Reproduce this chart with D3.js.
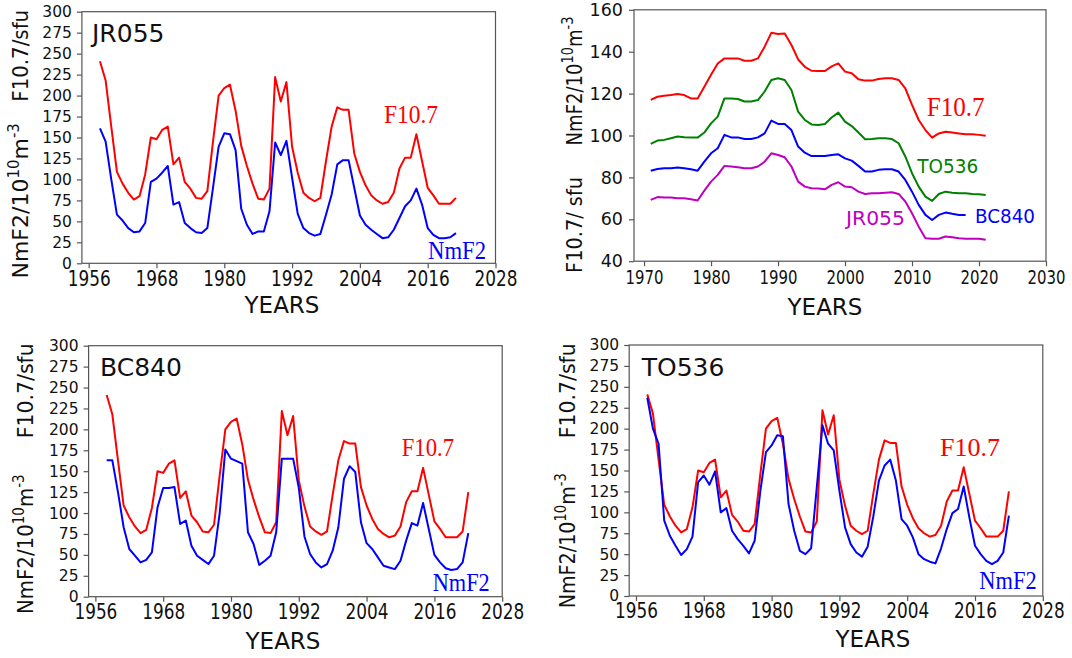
<!DOCTYPE html>
<html>
<head>
<meta charset="utf-8">
<script src="https://cdn.jsdelivr.net/npm/d3@7"></script>
<style>
  body { margin: 0; background: #fff; }
  svg { display: block; background: #fff; }
  text { font-family: "DejaVu Sans", sans-serif; fill: #111; }
  text.serif { font-family: "Liberation Serif", "Times New Roman", serif; }
</style>
</head>
<body>
<svg id="chart" width="1072" height="658"></svg>
<script>
// Annual values, 1958-2022
var years = [1958, 1959, 1960, 1961, 1962, 1963, 1964, 1965, 1966, 1967,
  1968, 1969, 1970, 1971, 1972, 1973, 1974, 1975, 1976, 1977,
  1978, 1979, 1980, 1981, 1982, 1983, 1984, 1985, 1986, 1987,
  1988, 1989, 1990, 1991, 1992, 1993, 1994, 1995, 1996, 1997,
  1998, 1999, 2000, 2001, 2002, 2003, 2004, 2005, 2006, 2007,
  2008, 2009, 2010, 2011, 2012, 2013, 2014, 2015, 2016, 2017,
  2018, 2019, 2020, 2021, 2022];

var f107 = [241, 218, 163, 109, 95, 84, 76, 80, 106, 150,
  148, 159, 163, 118, 126, 97, 89, 78, 77, 86,
  145, 200, 209, 213, 182, 140, 116, 95, 77, 76,
  89, 222, 193, 216, 139, 108, 84, 78, 74, 78,
  122, 163, 186, 183, 183, 131, 109, 93, 81, 75,
  71, 73, 84, 113, 126, 126, 154, 122, 90, 81,
  71, 71, 71, 78, 125];

// JR055 stops at 2021
var nmf2JR055 = [161, 145, 100, 58, 51, 42, 37, 38, 48, 97,
  101, 108, 116, 70, 73, 48, 42, 37, 36, 42,
  90, 139, 155, 154, 135, 65, 46, 35, 38, 38,
  62, 144, 129, 146, 102, 59, 42, 36, 33, 35,
  58, 82, 118, 123, 123, 90, 57, 46, 40, 35,
  30, 31, 40, 54, 68, 75, 89, 70, 42, 34,
  30, 30, 31, 36];

var nmf2BC840 = [163, 163, 125, 83, 57, 49, 41, 44, 53, 107,
  130, 130, 131, 87, 91, 61, 49, 44, 39, 49,
  100, 176, 165, 162, 159, 77, 63, 38, 43, 49,
  77, 165, 165, 165, 130, 72, 51, 41, 35, 39,
  55, 83, 141, 156, 149, 89, 64, 57, 47, 37,
  35, 33, 43, 67, 88, 85, 112, 81, 50, 41,
  34, 32, 33, 41, 76];

var nmf2TO536 = [237, 200, 182, 90, 72, 60, 49, 56, 71, 136,
  144, 133, 149, 100, 105, 78, 68, 60, 51, 66,
  125, 172, 180, 192, 191, 110, 78, 54, 50, 57,
  130, 204, 182, 174, 126, 82, 62, 52, 47, 59,
  95, 138, 156, 163, 138, 92, 84, 70, 50, 44,
  41, 39, 57, 80, 99, 104, 131, 94, 60, 50,
  42, 38, 42, 52, 96];

// Running means, 1971-2021 (BC840 ends 2018)
var meanYears = [1971, 1972, 1973, 1974, 1975, 1976, 1977, 1978, 1979, 1980,
  1981, 1982, 1983, 1984, 1985, 1986, 1987, 1988, 1989, 1990,
  1991, 1992, 1993, 1994, 1995, 1996, 1997, 1998, 1999, 2000,
  2001, 2002, 2003, 2004, 2005, 2006, 2007, 2008, 2009, 2010,
  2011, 2012, 2013, 2014, 2015, 2016, 2017, 2018, 2019, 2020,
  2021];

var meanF107 = [117, 118.5, 119, 119.3, 119.8, 119.3, 117.7, 117.7, 123.3, 129,
  134.4, 136.8, 136.8, 136.8, 135.7, 135.7, 136.8, 142.4, 149, 148.4,
  148.7, 143.2, 136.3, 132.8, 130.9, 130.8, 130.8, 133, 134.4, 130.5,
  129.7, 126.8, 126.2, 126.2, 127, 127.3, 127.3, 126.5, 122.5, 114.6,
  107.4, 102.6, 99, 101, 101.8, 101.4, 101, 100.6, 100.6, 100.3,
  99.9];

var meanTO536 = [96, 97.6, 97.9, 98.7, 99.5, 99.2, 99, 99, 101.4, 105.8,
  109, 117.7, 117.7, 117.4, 116.2, 116.2, 116.9, 121, 126.5, 127.3,
  126.5, 121.7, 111.4, 107.4, 105.3, 105, 105.5, 108.6, 110.9, 106.6,
  104.5, 101.4, 98.2, 98.3, 98.7, 98.7, 98.3, 96.3, 90, 82,
  75.6, 70.8, 68.8, 72.1, 73.2, 72.7, 72.4, 72.4, 72.1, 72,
  71.6];

var meanBC840 = [83.2, 84, 84.4, 84.4, 84.7, 84.4, 83.9, 83.2, 87.5, 91.5,
  93.9, 100.3, 99.1, 99.1, 98.3, 98.3, 99.1, 101, 107.1, 105.5,
  105.5, 102.6, 94.7, 91.8, 90.2, 90.2, 90.2, 90.7, 91, 89.1,
  88, 85.5, 82.8, 82.8, 83.6, 83.9, 83.9, 82.8, 78.8, 73.2,
  66.9, 62.1, 59.7, 62.1, 63.2, 62.6, 62.1, 62.1];

var meanJR055 = [69.3, 70.6, 70.4, 70.4, 70, 70, 69.6, 69, 73.7, 78,
  81.2, 85.5, 85.2, 84.8, 84.4, 84.4, 85.2, 87.5, 91.5, 90.7,
  89.6, 85.2, 78, 75.6, 74.8, 74.7, 74.3, 76.4, 77.7, 75.6,
  75.3, 73.2, 72.1, 72.4, 72.4, 72.7, 72.9, 72.1, 68.5, 62.9,
  56.5, 51, 50.7, 50.7, 51.8, 51.4, 51, 50.7, 50.7, 50.7,
  50.2];

var cycleXTicks = [1956, 1968, 1980, 1992, 2004, 2016, 2028];
var cycleYTicks = [0, 25, 50, 75, 100, 125, 150, 175, 200, 225, 250, 275, 300];
var meanXTicks = [1970, 1980, 1990, 2000, 2010, 2020, 2030];
var meanYTicks = [40, 60, 80, 100, 120, 140, 160];

var RED = "#ff0000", BLUE = "#0000ff", GREEN = "#008000", MAGENTA = "#bf00bf";
var FRAME = "#555";

var svg = d3.select("#chart");

/**
 * Helpers
 */
function addText(g, str, x, y, size, o) {
  o = o || {};
  var t = g.append("text")
    .attr("x", x)
    .attr("y", y)
    .style("font-size", size + "px")
    .text(str);
  if (o.anchor) t.attr("text-anchor", o.anchor);
  if (o.color) t.style("fill", o.color);
  if (o.serif) t.classed("serif", true);
  if (o.width) t.attr("textLength", o.width).attr("lengthAdjust", "spacingAndGlyphs");
  return t;
}

function rotated(g, x, y, size, sx) {
  return g.append("text")
    .attr("transform", "translate(" + x + "," + y + ") rotate(-90) scale(" + sx + ",1)")
    .attr("text-anchor", "middle")
    .style("font-size", size + "px");
}

function fluxLabel(g, str, x, y, size, sx) {
  rotated(g, x, y, size, sx).text(str);
}

function nmf2Label(g, x, y, size, sx) {
  var sup = Math.round(size * 0.7);
  var rise = Math.round(size * 0.42);
  var t = rotated(g, x, y, size, sx);
  t.append("tspan").text("NmF2/10");
  t.append("tspan").attr("dy", -rise).style("font-size", sup + "px").text("10");
  t.append("tspan").attr("dy", rise).text("m");
  t.append("tspan").attr("dy", -rise).style("font-size", sup + "px").text("-3");
}

function drawAxes(g, x, y, o) {
  var bottom = y.range()[0], top = y.range()[1];
  var left = x.range()[0], right = x.range()[1];

  var xa = g.append("g")
    .attr("transform", "translate(0," + bottom + ")")
    .call(d3.axisBottom(x).tickValues(o.xTicks).tickSize(5).tickPadding(o.xPad).tickFormat(d3.format("d")));
  xa.selectAll("text")
    .style("font-size", o.xFont + "px")
    .attr("textLength", o.xWidth)
    .attr("lengthAdjust", "spacingAndGlyphs");

  var ya = g.append("g")
    .attr("transform", "translate(" + left + ",0)")
    .call(d3.axisLeft(y).tickValues(o.yTicks).tickSize(5).tickPadding(o.yPad).tickFormat(d3.format("d")));
  ya.selectAll("text").style("font-size", o.yFont + "px");

  [xa, ya].forEach(function(a) {
    a.attr("font-family", null).attr("font-size", null);
    a.select(".domain").remove();
    a.selectAll("line").attr("stroke", FRAME).attr("stroke-width", 1.2);
  });

  g.append("rect")
    .attr("x", left).attr("y", top)
    .attr("width", right - left).attr("height", bottom - top)
    .attr("fill", "none")
    .attr("stroke", FRAME)
    .attr("stroke-width", 1.2);
}

function drawSeries(g, x, y, xs, vals, color) {
  var line = d3.line()
    .x(function(d) { return x(d[0]); })
    .y(function(d) { return y(d[1]); });
  g.append("path")
    .datum(d3.zip(xs.slice(0, vals.length), vals))
    .attr("d", line)
    .attr("fill", "none")
    .attr("stroke", color)
    .attr("stroke-width", 2)
    .attr("stroke-linejoin", "round");
}

/**
 * Station panels: F10.7 against station NmF2
 */
function cyclePanel(p) {
  var g = svg.append("g").attr("class", "panel");
  var x = d3.scaleLinear().domain([1954.8, 2028]).range([p.left, p.right]);
  var y = d3.scaleLinear().domain([0, 300]).range([p.bottom, p.top]);

  drawAxes(g, x, y, {
    xTicks: cycleXTicks, yTicks: cycleYTicks,
    xFont: 21, xWidth: 43, xPad: 2.5,
    yFont: 15.5, yPad: 5
  });

  var n = p.endYear ? years.indexOf(p.endYear) + 1 : years.length;
  drawSeries(g, x, y, years, f107.slice(0, n), RED);
  drawSeries(g, x, y, years, p.nmf2, BLUE);

  addText(g, p.name, p.titleX, p.titleY, 25);
  addText(g, "F10.7", p.fX, p.fY, 26, { serif: true, color: RED, width: p.fW });
  addText(g, "NmF2", p.nX, p.nY, 26, { serif: true, color: BLUE, width: p.nW });
  addText(g, "YEARS", p.yearsX, p.yearsY, 23, { anchor: "middle" });

  fluxLabel(g, "F10.7/sfu", p.labX, p.fluxY, 22, p.fluxS);
  nmf2Label(g, p.labX, p.nmY, 22, p.nmS);
}

cyclePanel({
  name: "JR055", nmf2: nmf2JR055, endYear: 2021,
  left: 81.9, right: 495.5, top: 11.7, bottom: 263.3,
  titleX: 92, titleY: 42.3,
  fX: 384, fY: 123, fW: 54,
  nX: 428, nY: 259.3, nW: 58,
  yearsX: 282, yearsY: 313,
  labX: 28.3, fluxY: 55.8, fluxS: 0.9, nmY: 200.8, nmS: 1.0
});

cyclePanel({
  name: "BC840", nmf2: nmf2BC840,
  left: 88.6, right: 502.2, top: 345.7, bottom: 596.7,
  titleX: 100, titleY: 376.3,
  fX: 401.7, fY: 455.7, fW: 52.5,
  nX: 432.7, nY: 590.7, nW: 57,
  yearsX: 283, yearsY: 649,
  labX: 33, fluxY: 390.8, fluxS: 0.93, nmY: 544.2, nmS: 0.9
});

cyclePanel({
  name: "TO536", nmf2: nmf2TO536,
  left: 629.2, right: 1042.8, top: 345, bottom: 596,
  titleX: 641.7, titleY: 375.7,
  fX: 940, fY: 455.7, fW: 60,
  nX: 979.3, nY: 589, nW: 57.3,
  yearsX: 873, yearsY: 647,
  labX: 575, fluxY: 390.8, fluxS: 0.93, nmY: 540.8, nmS: 0.87
});

/**
 * Running-mean panel
 */
(function() {
  var g = svg.append("g").attr("class", "panel");
  var x = d3.scaleLinear().domain([1968.5, 2030]).range([634, 1046]);
  var y = d3.scaleLinear().domain([40, 160]).range([261.2, 9.8]);

  drawAxes(g, x, y, {
    xTicks: meanXTicks, yTicks: meanYTicks,
    xFont: 20, xWidth: 38, xPad: 3.5,
    yFont: 17.5, yPad: 6
  });

  drawSeries(g, x, y, meanYears, meanF107, RED);
  drawSeries(g, x, y, meanYears, meanTO536, GREEN);
  drawSeries(g, x, y, meanYears, meanBC840, BLUE);
  drawSeries(g, x, y, meanYears, meanJR055, MAGENTA);

  addText(g, "F10.7", 926.7, 116, 27, { serif: true, color: RED, width: 58 });
  addText(g, "TO536", 917.3, 173.3, 20, { color: GREEN, width: 61 });
  addText(g, "BC840", 975, 223.3, 20, { color: BLUE, width: 60 });
  addText(g, "JR055", 846, 225, 20, { color: MAGENTA, width: 59 });
  addText(g, "YEARS", 825, 315, 23, { anchor: "middle" });

  fluxLabel(g, "F10.7/ sfu", 582, 225, 21, 0.92);
  nmf2Label(g, 582, 81, 21, 0.86);
})();
</script>
</body>
</html>
